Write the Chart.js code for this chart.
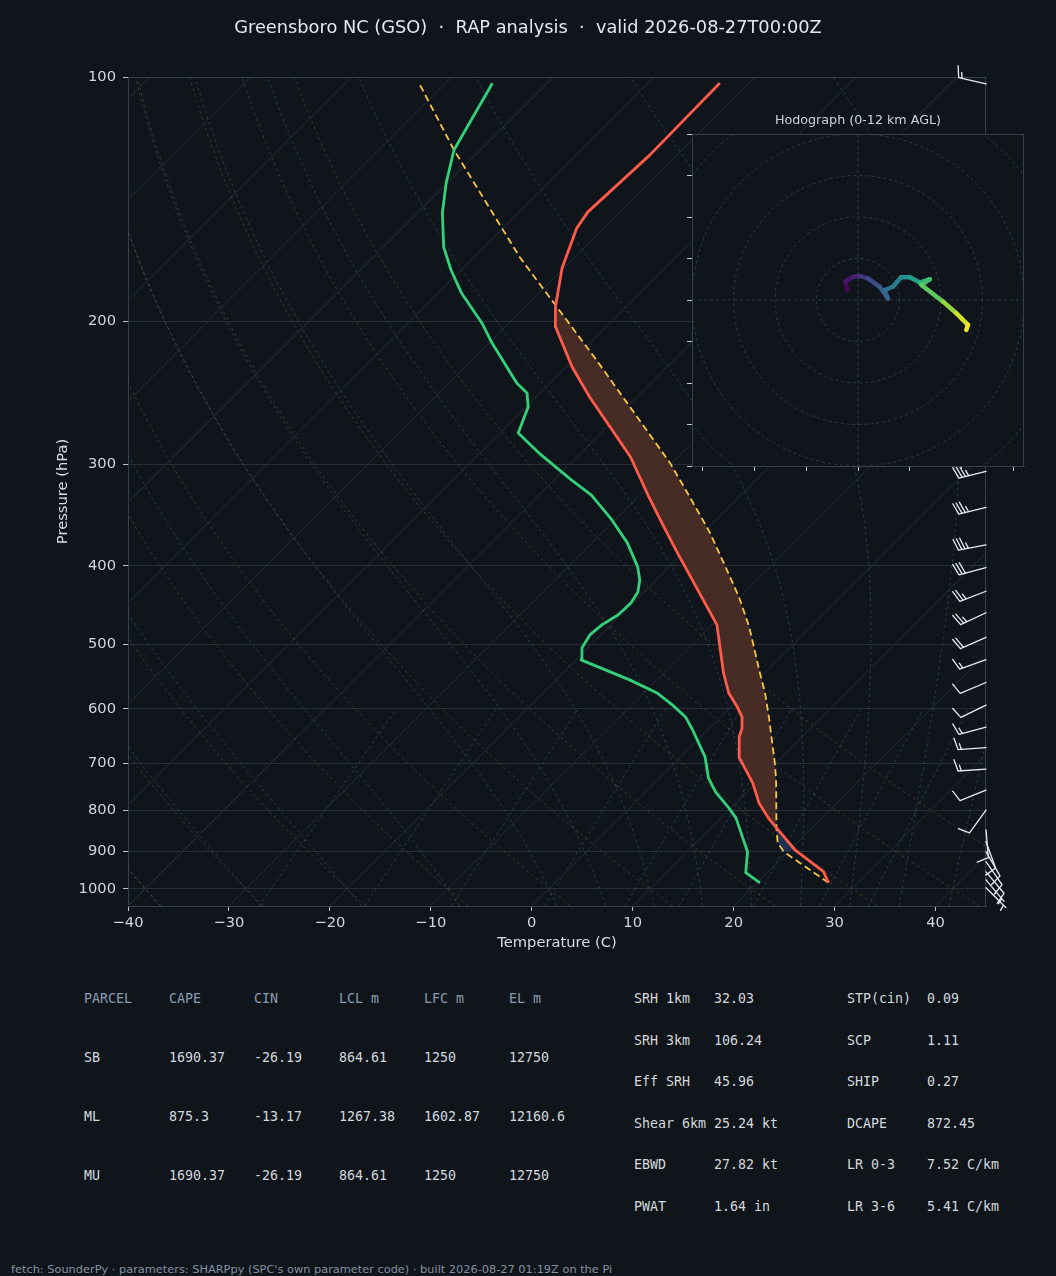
<!DOCTYPE html>
<html><head><meta charset="utf-8"><title>Skew-T GSO</title>
<script src="https://cdn.jsdelivr.net/npm/chart.js@4.4.1/dist/chart.umd.min.js"></script>
<style>
html,body{margin:0;padding:0;background:#10151c;width:1056px;height:1276px;overflow:hidden;}
#page{position:relative;width:1056px;height:1276px;background:#10151c;}
canvas{position:absolute;display:block;}
#skew{left:0;top:0;}
#hodo{left:680px;top:100px;}
.txt{position:absolute;white-space:pre;}
#title{left:0;width:1056px;top:16px;text-align:center;font-family:'DejaVu Sans';font-size:17.8px;line-height:22px;color:#e4e8ed;}
#hodoTitle{left:680px;width:356px;top:112px;text-align:center;font-family:'DejaVu Sans';font-size:12.7px;line-height:16px;color:#cdd3da;}
.mono{font-family:'DejaVu Sans Mono';font-size:13.3px;line-height:16px;color:#d3d8de;}
.hdr{color:#8a9cb0;}
#footer{left:11px;top:1262px;font-family:'DejaVu Sans';font-size:11.35px;line-height:14px;color:#8491a1;}
</style></head>
<body>
<div id="page">
<canvas id="skew" width="1056" height="960"></canvas>
<canvas id="hodo" width="356" height="380"></canvas>
<div id="title" class="txt">Greensboro NC (GSO)  ·  RAP analysis  ·  valid 2026-08-27T00:00Z</div>
<div id="hodoTitle" class="txt">Hodograph (0-12 km AGL)</div>
<div id="footer" class="txt">fetch: SounderPy · parameters: SHARPpy (SPC's own parameter code) · built 2026-08-27 01:19Z on the Pi</div>
</div>
<script>
// ---------------- DATA ----------------
// Temperature profile (hPa, degC)
const tempP = [983.1, 952.6, 895.2, 841.3, 817.8, 783.8, 740.6, 689.9, 650.0, 633.7, 614.2, 596.6, 573.7, 542.0, 473.1, 384.6, 354.6, 327.3, 293.8, 269.8, 247.8, 227.6, 203.2, 192.0, 171.9, 153.5, 146.6, 124.8, 101.7];
const tempT = [27.1, 25.5, 20.5, 16.5, 14.7, 12.3, 9.7, 5.9, 3.8, 3.2, 2.1, 0.6, -1.6, -4.1, -9.5, -20.7, -25.0, -29.2, -34.7, -39.7, -44.7, -49.4, -55.0, -57.0, -60.2, -62.7, -63.2, -62.7, -62.9];
// Dewpoint profile
const dewP = [983.1, 955.3, 900.3, 817.8, 795.0, 759.7, 729.9, 687.9, 637.3, 614.2, 593.5, 573.7, 552.9, 522.4, 504.9, 486.7, 473.1, 459.9, 444.5, 430.8, 416.4, 401.3, 374.9, 351.3, 327.3, 313.5, 290.4, 274.5, 254.9, 245.0, 238.2, 212.7, 200.9, 184.5, 172.9, 162.0, 147.1, 135.1, 123.0, 101.8];
const dewT = [20.3, 17.9, 16.0, 11.5, 9.8, 6.9, 4.8, 2.4, -1.5, -3.5, -6.0, -8.7, -12.7, -19.5, -20.6, -21.1, -20.9, -20.3, -20.2, -20.6, -21.6, -23.1, -26.5, -30.3, -34.8, -38.3, -44.2, -48.2, -49.8, -51.3, -53.3, -59.7, -62.7, -67.7, -71.0, -74.0, -77.5, -80.1, -82.6, -85.4];
// Surface-based parcel path
const parcelP = [983.1, 900.3, 877.7, 841.3, 806.2, 734.0, 699.7, 619.4, 573.7, 542.0, 475.8, 436.9, 401.3, 364.4, 331.9, 298.8, 262.3, 223.1, 190.9, 179.4, 166.6, 123.0, 102.3];
const parcelT = [27.1, 19.6, 18.1, 16.5, 15.0, 11.7, 9.9, 5.1, 2.0, -0.5, -6.1, -10.1, -14.4, -19.3, -24.4, -30.2, -38.0, -47.7, -57.2, -61.0, -65.5, -82.6, -92.4];
const lfcP = 841.3, lclP = 877.7, elP = 190.0, cinBottomP = 900.3;
// Wind barbs (hPa, kt, deg from)
const barbP   = [102, 306, 339, 377, 402, 430, 457, 490, 522, 557, 594, 632, 670, 712, 756, 800, 846, 875, 900, 926, 953, 975, 997];
const barbSpd = [15, 35, 35, 35, 30, 25, 25, 20, 15, 10, 10, 15, 15, 15, 10, 10, 10, 10, 10, 10, 10, 5, 5];
const barbDir = [283, 256, 256, 259, 255, 249, 245, 246, 250, 247, 244, 255, 266, 266, 248, 216, 175, 160, 150, 145, 140, 140, 135];
// Hodograph (u, v, height km)
const hodoU = [-2.6, -3.1, -1.2, 0.4, 2.4, 5.2, 7.2, 6.4, 8.4, 10.4, 12.5, 14.9, 17.3, 15.3, 20.5, 23.7, 26.5, 26.1];
const hodoV = [2.4, 4.4, 5.6, 5.8, 5.2, 3.2, 0.4, 2.4, 3.2, 5.5, 5.5, 4.2, 5.0, 3.6, -0.4, -3.2, -6.0, -7.2];
const hodoH = [0, 0.4, 0.9, 1.4, 2.2, 3.2, 3.8, 4.1, 4.7, 5.5, 6.3, 7.3, 8.2, 8.5, 9.6, 10.6, 11.6, 12];
const hodoHMax = 12;
const ringRadii = [10, 20, 30, 40, 50];
// Ticks
const xTicks = [-40, -30, -20, -10, 0, 10, 20, 30, 40];
const yTicks = [100, 200, 300, 400, 500, 600, 700, 800, 900, 1000];
const hodoXTicks = [-37.5, -25, -12.5, 0, 12.5, 25, 37.5];
const hodoYTicks = [-40, -30, -20, -10, 0, 10, 20, 30, 40];
// Diagram reference lines
const isoTemps = [-130, -120, -110, -100, -90, -80, -70, -60, -50, -40, -30, -20, -10, 0, 10, 20, 30, 40];
const dryT0 = [-40, -30, -20, -10, 0, 10, 20, 30, 40, 50];
const moistT0 = [-40, -30, -20, -10, 0, 5, 10, 15, 20, 25, 30, 35, 40, 45];
const mixRatios = [0.4, 1, 2, 4, 7, 10, 16, 24, 32]; // g/kg
// Tables
const parcelNames = ['SB', 'ML', 'MU'];
const capeVals = [1690.37, 875.3, 1690.37];
const cinVals = [-26.19, -13.17, -26.19];
const lclVals = [864.61, 1267.38, 864.61];
const lfcVals = [1250, 1602.87, 1250];
const elVals = [12750, 12160.6, 12750];
const tableHeaders = ['PARCEL', 'CAPE', 'CIN', 'LCL m', 'LFC m', 'EL m'];
const idxLabelsA = ['SRH 1km', 'SRH 3km', 'Eff SRH', 'Shear 6km', 'EBWD', 'PWAT'];
const idxValsA = [32.03, 106.24, 45.96, 25.24, 27.82, 1.64];
const idxUnitsA = ['', '', '', 'kt', 'kt', 'in'];
const idxLabelsB = ['STP(cin)', 'SCP', 'SHIP', 'DCAPE', 'LR 0-3', 'LR 3-6'];
const idxValsB = [0.09, 1.11, 0.27, 872.45, 7.52, 5.41];
const idxUnitsB = ['', '', '', '', 'C/km', 'C/km'];

// ---------------- HELPERS ----------------
const P_BOT = 1050, P_TOP = 100, SKEW = 80.42;
const sx = (T, p) => T + SKEW * Math.log10(P_BOT / p);
const prof = (P, T) => P.map((p, i) => ({x: sx(T[i], p), y: p}));
const Rd = 287.04, Cp = 1005.7, Lv = 2.501e6, EPS = 0.622, KAPPA = Rd / Cp;
const es = Tc => 6.112 * Math.exp(17.67 * Tc / (Tc + 243.5));
function dTdp(p, T) {
  const e = es(T - 273.15), rs = EPS * e / (p - e);
  return (Rd * T + Lv * rs) / (Cp + (Lv * Lv * rs * EPS) / (Rd * T * T)) / p;
}
function rk4(p, T, h) {
  const k1 = dTdp(p, T), k2 = dTdp(p + h / 2, T + h * k1 / 2), k3 = dTdp(p + h / 2, T + h * k2 / 2), k4 = dTdp(p + h, T + h * k3);
  return T + h * (k1 + 2 * k2 + 2 * k3 + k4) / 6;
}
const pGrid = []; for (let p = P_BOT; p >= P_TOP; p -= 10) pGrid.push(p);
function dryLine(T0) { return pGrid.map(p => ({x: sx((T0 + 273.15) * Math.pow(p / 1000, KAPPA) - 273.15, p), y: p})); }
function moistLine(T0) {
  const below = []; let T = T0 + 273.15;
  for (let i = 1; i <= 25; i++) { T = rk4(1000 + (i - 1) * 2, T, 2); if (i % 5 === 0) below.push({p: 1000 + i * 2, T}); }
  T = T0 + 273.15; const above = [{p: 1000, T}];
  for (let i = 1; i <= 450; i++) { T = rk4(1000 - (i - 1) * 2, T, -2); if (i % 5 === 0) above.push({p: 1000 - i * 2, T}); }
  return below.reverse().concat(above).map(o => ({x: sx(o.T - 273.15, o.p), y: o.p}));
}
function mixLine(wg) {
  const w = wg / 1000, out = [];
  for (let p = P_BOT; p >= 600; p -= 25) {
    const e = p * w / (EPS + w), l = Math.log(e / 6.112);
    out.push({x: sx(243.5 * l / (17.67 - l), p), y: p});
  }
  return out;
}
const VIRIDIS = ['#440154', '#482475', '#414487', '#355f8d', '#2a788e', '#21918c', '#22a884', '#44bf70', '#7ad151', '#bddf26', '#fde725'];
function hexRgb(h) { return [1, 3, 5].map(i => parseInt(h.substr(i, 2), 16)); }
function viridis(t) {
  t = Math.max(0, Math.min(1, t)); const s = t * 10, i = Math.min(9, Math.floor(s)), f = s - i;
  const a = hexRgb(VIRIDIS[i]), b = hexRgb(VIRIDIS[i + 1]);
  return 'rgb(' + a.map((v, k) => Math.round(v + (b[k] - v) * f)).join(',') + ')';
}

// ---------------- STYLE ----------------
const BG = '#10151c', SPINE = '#34404d', GRID = '#252e39', TICKC = '#b9c1cb', LABELC = '#d0d6dd';
const FONT = 'DejaVu Sans';
Chart.defaults.font.family = FONT;

// ---------------- DATASETS ----------------
const ds = [];
const bg = (data, color, dash) => ({data, borderColor: color, borderWidth: 1, borderDash: dash, pointRadius: 0, fill: false, order: 10, clip: 0});
isoTemps.forEach(T => ds.push(bg([{x: sx(T, P_BOT), y: P_BOT}, {x: sx(T, P_TOP), y: P_TOP}], '#252d37', [])));
dryT0.forEach(T => ds.push(bg(dryLine(T), 'rgba(150,105,60,0.38)', [3, 3])));
moistT0.forEach(T => ds.push(bg(moistLine(T), 'rgba(70,120,145,0.40)', [3, 3])));
mixRatios.forEach(w => ds.push(bg(mixLine(w), 'rgba(70,120,145,0.40)', [3, 3])));

const capeShape = prof(tempP, tempT).filter(pt => pt.y <= lfcP && pt.y >= 200)
  .concat(prof(parcelP, parcelT).filter(pt => pt.y <= lfcP && pt.y >= elP).reverse());
const cinShape = prof(tempP, tempT).filter(pt => pt.y >= lfcP && pt.y <= cinBottomP)
  .concat(prof(parcelP, parcelT).filter(pt => pt.y >= lfcP && pt.y <= cinBottomP).reverse());
ds.push({data: capeShape, borderWidth: 0, borderColor: 'rgba(0,0,0,0)', backgroundColor: '#472b25', fill: 'shape', pointRadius: 0, order: 8});
ds.push({data: cinShape, borderWidth: 0, borderColor: 'rgba(0,0,0,0)', backgroundColor: '#1f3150', fill: 'shape', pointRadius: 0, order: 8});
ds.push({data: prof(parcelP, parcelT), borderColor: '#f7c548', borderWidth: 1.8, borderDash: [7, 4], pointRadius: 0, fill: false, order: 3});
ds.push({data: prof(dewP, dewT), borderColor: '#33d17a', borderWidth: 2.8, pointRadius: 0, fill: false, order: 2, borderJoinStyle: 'round'});
ds.push({data: prof(tempP, tempT), borderColor: '#ff5b4b', borderWidth: 2.8, pointRadius: 0, fill: false, order: 1, borderJoinStyle: 'round'});

// ---------------- PLUGINS ----------------
const framePlugin = {id: 'frame', afterDatasetsDraw(chart) {
  const {ctx, chartArea: a} = chart; ctx.save(); ctx.strokeStyle = SPINE; ctx.lineWidth = 1;
  ctx.beginPath(); ctx.moveTo(a.left, a.top + 0.5); ctx.lineTo(a.right, a.top + 0.5);
  ctx.moveTo(a.right - 0.5, a.top); ctx.lineTo(a.right - 0.5, a.bottom); ctx.stroke(); ctx.restore();
}};
function drawBarb(ctx, x, y, spd, dir) {
  const L = 28, r = dir * Math.PI / 180, ux = Math.sin(r), uy = -Math.cos(r), nx = -uy, ny = ux;
  const tx = x + L * ux, ty = y + L * uy;
  ctx.beginPath(); ctx.moveTo(x, y); ctx.lineTo(tx, ty);
  let s = Math.round(spd / 5) * 5; const flags = Math.floor(s / 50); s -= flags * 50;
  const full = Math.floor(s / 10); s -= full * 10; const half = s >= 5 ? 1 : 0;
  const sp = 0.12 * L, fx = L * (0.1185 * ux + 0.413 * nx), fy = L * (0.1185 * uy + 0.413 * ny);
  let pos = 0;
  for (let k = 0; k < flags; k++) {
    const px = tx - pos * ux, py = ty - pos * uy;
    ctx.moveTo(px, py); ctx.lineTo(px + fx, py + fy); ctx.lineTo(px - 0.25 * L * ux, py - 0.25 * L * uy);
    pos += 0.25 * L + sp;
  }
  for (let k = 0; k < full; k++) { const px = tx - pos * ux, py = ty - pos * uy; ctx.moveTo(px, py); ctx.lineTo(px + fx, py + fy); pos += sp; }
  if (half) { if (full === 0 && flags === 0) pos += sp; const px = tx - pos * ux, py = ty - pos * uy; ctx.moveTo(px, py); ctx.lineTo(px + fx / 2, py + fy / 2); }
  ctx.stroke();
}
const barbPlugin = {id: 'barbs', afterDatasetsDraw(chart) {
  const {ctx, chartArea: a, scales: {y}} = chart;
  ctx.save(); ctx.strokeStyle = '#e8ecf1'; ctx.lineWidth = 1.3; ctx.lineCap = 'round';
  barbP.forEach((p, i) => drawBarb(ctx, a.right, y.getPixelForValue(p), barbSpd[i], barbDir[i]));
  ctx.restore();
}};

// ---------------- SKEW-T ----------------
new Chart(document.getElementById('skew'), {
  type: 'line',
  data: {datasets: ds},
  options: {
    responsive: false, animation: false, events: [],
    layout: {padding: {left: 0, right: 70, top: 77, bottom: 0}},
    plugins: {legend: {display: false}, tooltip: {enabled: false}, title: {display: false}},
    elements: {point: {radius: 0}, line: {tension: 0}},
    scales: {
      x: {
        type: 'linear', min: -40, max: 45,
        afterBuildTicks: s => { s.ticks = xTicks.map(v => ({value: v})); },
        afterFit: s => { s.height = 54; },
        grid: {drawOnChartArea: false, drawTicks: true, tickLength: 5, tickColor: TICKC},
        border: {display: true, color: SPINE},
        ticks: {color: LABELC, font: {family: FONT, size: 14.7}, padding: 3, maxRotation: 0, autoSkip: false,
          callback: v => (v < 0 ? '\u2212' : '') + Math.abs(v)},
        title: {display: true, text: 'Temperature (C)', color: '#d8dde3', font: {family: FONT, size: 14.7}, padding: {top: 0, bottom: 8}}
      },
      y: {
        type: 'logarithmic', min: P_TOP, max: P_BOT, reverse: true,
        afterBuildTicks: s => { s.ticks = yTicks.map(v => ({value: v})); },
        afterFit: s => { s.width = 128; },
        grid: {color: GRID, lineWidth: 1, drawTicks: true, tickLength: 5, tickColor: TICKC},
        border: {display: true, color: SPINE},
        ticks: {color: LABELC, font: {family: FONT, size: 14.7}, padding: 7, autoSkip: false, callback: v => String(v)},
        title: {display: true, text: 'Pressure (hPa)', color: '#d8dde3', font: {family: FONT, size: 14.7}, padding: {top: 54, bottom: 0}}
      }
    }
  },
  plugins: [framePlugin, barbPlugin]
});

// ---------------- HODOGRAPH ----------------
const hodoBg = {id: 'hodoBg',
  beforeDraw(chart) { const {ctx, chartArea: a} = chart; ctx.save(); ctx.fillStyle = BG; ctx.fillRect(a.left, a.top, a.width, a.height); ctx.restore(); },
  beforeDatasetsDraw(chart) {
    const {ctx, chartArea: a, scales: {x, y}} = chart;
    ctx.save(); ctx.beginPath(); ctx.rect(a.left, a.top, a.width, a.height); ctx.clip();
    ctx.strokeStyle = '#2e3a48'; ctx.lineWidth = 1; ctx.setLineDash([3, 3]);
    const cx = x.getPixelForValue(0), cy = y.getPixelForValue(0);
    ringRadii.forEach(r => { const rp = x.getPixelForValue(r) - cx; ctx.beginPath(); ctx.arc(cx, cy, rp, 0, Math.PI * 2); ctx.stroke(); });
    ctx.beginPath(); ctx.moveTo(cx, a.top); ctx.lineTo(cx, a.bottom); ctx.moveTo(a.left, cy); ctx.lineTo(a.right, cy); ctx.stroke();
    ctx.restore();
  },
  afterDatasetsDraw(chart) {
    const {ctx, chartArea: a} = chart; ctx.save(); ctx.strokeStyle = SPINE; ctx.lineWidth = 1;
    ctx.beginPath(); ctx.moveTo(a.left, a.top + 0.5); ctx.lineTo(a.right, a.top + 0.5);
    ctx.moveTo(a.right - 0.5, a.top); ctx.lineTo(a.right - 0.5, a.bottom); ctx.stroke(); ctx.restore();
  }
};
new Chart(document.getElementById('hodo'), {
  type: 'line',
  data: {datasets: [{
    data: hodoU.map((u, i) => ({x: u, y: hodoV[i]})),
    borderWidth: 4.5, borderCapStyle: 'round', borderJoinStyle: 'round', pointRadius: 0, fill: false,
    borderColor: viridis(0),
    segment: {borderColor: c => viridis(((hodoH[c.p0DataIndex] + hodoH[c.p1DataIndex]) / 2) / hodoHMax)}
  }]},
  options: {
    responsive: false, animation: false, events: [],
    layout: {padding: {left: 0, right: 12, top: 34, bottom: 0}},
    plugins: {legend: {display: false}, tooltip: {enabled: false}},
    scales: {
      x: {type: 'linear', min: -40, max: 40,
        afterBuildTicks: s => { s.ticks = hodoXTicks.map(v => ({value: v})); },
        afterFit: s => { s.height = 14; },
        grid: {drawOnChartArea: false, drawTicks: true, tickLength: 5, tickColor: '#c5ccd5'},
        border: {display: true, color: SPINE}, ticks: {display: false}},
      y: {type: 'linear', min: -40, max: 40,
        afterBuildTicks: s => { s.ticks = hodoYTicks.map(v => ({value: v})); },
        afterFit: s => { s.width = 12; },
        grid: {drawOnChartArea: false, drawTicks: true, tickLength: 5, tickColor: '#c5ccd5'},
        border: {display: true, color: SPINE}, ticks: {display: false}}
    }
  },
  plugins: [hodoBg]
});

// ---------------- TABLES ----------------
const page = document.getElementById('page');
function addText(cls, x, yc, text) {
  const d = document.createElement('div'); d.className = 'txt ' + cls; d.textContent = text;
  d.style.left = x + 'px'; d.style.top = (yc - 8) + 'px'; page.appendChild(d);
}
const leftCols = [84, 169, 254, 339, 424, 509], leftRows = [999, 1058, 1117, 1176];
tableHeaders.forEach((h, i) => addText('mono hdr', leftCols[i], leftRows[0], h));
parcelNames.forEach((n, r) => {
  [n, capeVals[r], cinVals[r], lclVals[r], lfcVals[r], elVals[r]].forEach((v, c) => addText('mono', leftCols[c], leftRows[r + 1], String(v)));
});
const rightRows = [999, 1041, 1082, 1124, 1165, 1207], rightCols = [634, 714, 847, 927];
const fmt = (v, u) => String(v) + (u ? ' ' + u : '');
idxLabelsA.forEach((l, r) => {
  addText('mono', rightCols[0], rightRows[r], l);
  addText('mono', rightCols[1], rightRows[r], fmt(idxValsA[r], idxUnitsA[r]));
  addText('mono', rightCols[2], rightRows[r], idxLabelsB[r]);
  addText('mono', rightCols[3], rightRows[r], fmt(idxValsB[r], idxUnitsB[r]));
});
</script>
</body></html>
